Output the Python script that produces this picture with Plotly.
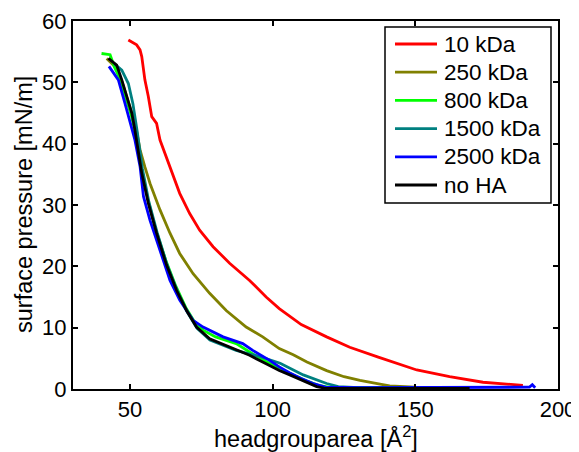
import plotly.graph_objects as go

# ---- data ----
labels = ["10 kDa", "250 kDa", "800 kDa", "1500 kDa", "2500 kDa", "no HA"]
colors = ["#FF0000", "#808000", "#00FF00", "#008080", "#0000FF", "#000000"]

x_10k = [49.4, 52.3, 53.5, 54.1, 55.2, 56.4, 57.6, 59.3, 60.5, 62.2, 64, 67.4, 70.9, 74.4, 79.1, 84.9,
         91.9, 97.7, 102.3, 110, 118.9, 127, 137, 150.5, 162, 173.7, 182, 187.7]
y_10k = [56.9, 56.1, 55.3, 54.2, 50.4, 47.7, 44.4, 43.3, 40.6, 38.4, 36.3, 31.9, 28.6, 25.9, 23.2, 20.5,
         17.7, 15.0, 13.1, 10.5, 8.5, 6.8, 5.2, 3.1, 2.0, 1.1, 0.8, 0.6]

x_250k = [41.8, 43.5, 45.3, 47.1, 48.8, 50.6, 52.3, 53.5, 55.2, 57, 60.5, 64, 67.4, 72.1, 77.9, 83.7,
          90.7, 96.5, 102.3, 107.2, 112, 118.9, 125, 130.6, 137.6, 141, 150]
y_250k = [53.9, 53.2, 52.3, 50.2, 47.7, 45, 42, 39, 36.2, 33.5, 29.2, 25.4, 22.1, 18.8, 15.6, 12.8,
          10.1, 8.5, 6.6, 5.6, 4.4, 3.0, 2.0, 1.4, 0.8, 0.5, 0.3]

x_800k = [40, 43, 44.5, 46.5, 48.5, 50.5, 52, 54, 56.2, 59, 62.5, 66, 69.5, 72.5, 75.6, 80, 87.2, 93,
          98, 103, 108, 112, 116, 120, 130, 165]
y_800k = [54.7, 54.5, 52.5, 50.5, 47.5, 44.5, 41.5, 36, 31, 26, 21, 16.8, 13.3, 11.0, 9.6, 8.5, 7.4,
          5.7, 4.4, 3.2, 2.1, 1.3, 0.6, 0.25, 0.2, 0.2]

x_1500k = [44.5, 47.1, 49.4, 51, 52.5, 54.3, 56.6, 59.5, 63, 66.5, 70, 73.5, 78, 87.2, 92, 95.5,
           102.6, 110.7, 118.9, 123, 130, 165]
y_1500k = [53, 52, 49.8, 46.5, 42, 36, 30.5, 25.5, 20.2, 16, 12.6, 9.9, 8.0, 6.3, 5.7, 5.3,
           4.2, 2.3, 0.9, 0.4, 0.2, 0.2]

x_2500k = [42.6, 44, 45.9, 48.2, 50, 51.7, 53.5, 54.7, 57, 60.5, 64, 67.4, 72.1, 75.6, 82.6, 89.5, 93,
           98.8, 102.3, 106, 110, 114.2, 118.5, 130, 160, 185, 190, 191, 192]
y_2500k = [52.6, 51.6, 50.4, 46.6, 43.5, 40.6, 36.3, 31.4, 27.5, 22.6, 17.7, 14.5, 11.2, 10.1, 8.5, 7.4,
           6.3, 4.7, 3.6, 2.6, 1.7, 0.9, 0.3, 0.2, 0.2, 0.2, 0.3, 0.7, 0.2]

x_noha = [42.4, 45.3, 47.1, 48.8, 50.6, 51.6, 52.3, 54.1, 56.4, 59.3, 62.8, 66.3, 69.8, 73.3, 77.9,
          84.9, 91.9, 97.7, 102.3, 106, 109.6, 113, 115.4, 118, 130, 150, 169]
y_noha = [53.9, 52.8, 50.4, 47.7, 45, 42.5, 40.6, 35.2, 30.3, 25.4, 20.2, 16.1, 12.8, 10.1, 8.2,
          6.8, 5.5, 4.1, 3.0, 2.3, 1.6, 0.9, 0.4, 0.15, 0.1, 0.1, 0.1]

xs = [x_10k, x_250k, x_800k, x_1500k, x_2500k, x_noha]
ys = [y_10k, y_250k, y_800k, y_1500k, y_2500k, y_noha]

x_ticks = [50, 100, 150, 200]
y_ticks = [0, 10, 20, 30, 40, 50, 60]
x_title = "headgrouparea [Å<sup>2</sup>]"
y_title = "surface pressure [mN/m]"

fig = go.Figure()
for lab, col, xv, yv in zip(labels, colors, xs, ys):
    fig.add_trace(go.Scatter(x=xv, y=yv, mode="lines", name=lab, showlegend=False,
                             line=dict(color=col, width=2.8)))

FONT = "Liberation Sans, Arial, Helvetica, sans-serif"
FS_TICK = 22
FS_LABEL = 23.5
FS_LEG = 22.5

axis_common = dict(showgrid=False, zeroline=False, showline=True, linecolor="black",
                   linewidth=2, mirror="ticks", ticks="inside", ticklen=5, tickwidth=1.5,
                   tickcolor="black", automargin=False,
                   tickfont=dict(size=FS_TICK, color="black", family=FONT))

# the page body has an 8px default margin, so the figure is drawn offset by 8px
OFF = 8
FIG_W, FIG_H = 579 - OFF, 452 - OFF
# plot area in screen pixels: left 73, right 558, top 21, bottom 389
L, R, T, B = 73, 558, 21, 389
W, H = R - L, B - T
def px(xp):
    return (xp - L) / W
def py(yp):
    return (B - yp) / H

shapes = []
annotations = []

# legend box (manual, MATLAB style)
shapes.append(dict(type="rect", xref="paper", yref="paper",
                   x0=px(385), x1=px(551), y0=py(203), y1=py(27),
                   line=dict(color="black", width=1.5), fillcolor="white", layer="above"))
for i, (lab, col) in enumerate(zip(labels, colors)):
    yy = py(44 + i * 28.2)
    shapes.append(dict(type="line", xref="paper", yref="paper",
                       x0=px(395), x1=px(437), y0=yy, y1=yy,
                       line=dict(color=col, width=2.8), layer="above"))
    annotations.append(dict(text=lab, xref="paper", yref="paper", x=px(442), y=yy,
                            xanchor="left", yanchor="middle", showarrow=False,
                            font=dict(size=FS_LEG, color="black", family=FONT)))

# axis titles
annotations.append(dict(text=x_title, xref="paper", yref="paper", x=0.5, y=py(437),
                        xanchor="center", yanchor="middle", showarrow=False,
                        font=dict(size=FS_LABEL, color="black", family=FONT)))
annotations.append(dict(text=y_title, xref="paper", yref="paper", x=px(24), y=0.5,
                        xanchor="center", yanchor="middle", showarrow=False, textangle=-90,
                        font=dict(size=FS_LABEL, color="black", family=FONT)))

fig.update_layout(
    width=FIG_W, height=FIG_H,
    margin=dict(l=L - OFF, r=FIG_W - (R - OFF), t=T - OFF, b=FIG_H - (B - OFF)),
    paper_bgcolor="white", plot_bgcolor="white",
    font=dict(family=FONT, color="black", size=FS_TICK),
    showlegend=False,
    xaxis=dict(range=[30, 200], tickvals=x_ticks, **axis_common),
    yaxis=dict(range=[0, 60], tickvals=y_ticks, **axis_common),
    shapes=shapes,
    annotations=annotations,
)

fig.write_html("out.html")
